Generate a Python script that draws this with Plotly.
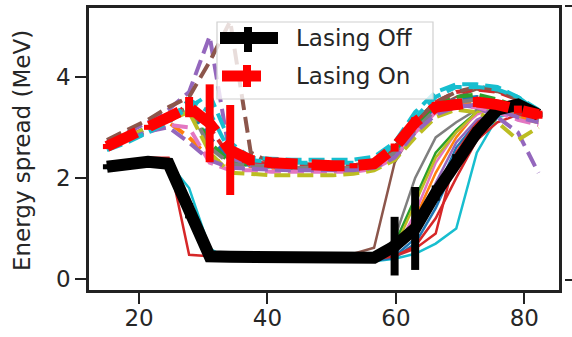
import plotly.graph_objects as go

# ---------------- data ----------------
x_pos = [15.0, 18.2, 21.4, 24.6, 27.8, 31.0, 34.2, 37.4, 40.6, 43.8, 47.0,
         50.2, 53.4, 56.6, 59.8, 63.0, 66.2, 69.4, 72.6, 75.8, 79.0, 82.2]

off_blue   = [2.20, 2.28, 2.33, 2.30, 1.40, 0.42, 0.40, 0.40, 0.39, 0.38, 0.37, 0.37, 0.36, 0.37, 0.45, 0.80, 1.70, 2.60, 3.10, 3.40, 3.30, 3.20]
off_orange = [2.22, 2.30, 2.35, 2.32, 1.30, 0.45, 0.44, 0.43, 0.42, 0.41, 0.40, 0.39, 0.39, 0.40, 0.55, 1.20, 2.10, 2.80, 3.30, 3.50, 3.40, 3.25]
off_green  = [2.18, 2.26, 2.28, 2.20, 1.20, 0.40, 0.40, 0.40, 0.39, 0.38, 0.37, 0.37, 0.37, 0.40, 0.70, 1.60, 2.50, 2.95, 3.30, 3.45, 3.35, 3.20]
off_red    = [2.25, 2.32, 2.40, 2.40, 0.48, 0.45, 0.44, 0.44, 0.43, 0.42, 0.41, 0.40, 0.40, 0.40, 0.45, 0.60, 0.90, 2.50, 3.10, 3.40, 3.35, 3.25]
off_purple = [2.20, 2.28, 2.34, 2.30, 1.60, 0.50, 0.43, 0.42, 0.41, 0.40, 0.39, 0.38, 0.38, 0.39, 0.50, 1.00, 1.90, 2.70, 3.15, 3.35, 3.25, 3.15]
off_brown  = [2.20, 2.30, 2.35, 2.30, 1.50, 0.50, 0.48, 0.47, 0.46, 0.45, 0.45, 0.46, 0.50, 0.62, 2.30, 3.00, 3.40, 3.60, 3.75, 3.70, 3.55, 3.35]
off_pink   = [2.22, 2.30, 2.36, 2.32, 1.20, 0.55, 0.45, 0.44, 0.43, 0.42, 0.41, 0.40, 0.40, 0.41, 0.55, 1.30, 2.30, 2.90, 3.25, 3.40, 3.30, 3.20]
off_gray   = [2.20, 2.28, 2.32, 2.28, 1.40, 0.45, 0.43, 0.42, 0.41, 0.40, 0.39, 0.38, 0.38, 0.40, 0.80, 2.00, 2.80, 3.10, 3.35, 3.45, 3.30, 3.15]
off_olive  = [2.20, 2.28, 2.32, 2.30, 1.35, 0.44, 0.42, 0.41, 0.40, 0.39, 0.38, 0.38, 0.37, 0.39, 0.60, 1.50, 2.40, 2.90, 3.30, 3.40, 3.20, 3.10]
off_cyan   = [2.18, 2.26, 2.30, 2.30, 1.80, 0.60, 0.38, 0.37, 0.36, 0.35, 0.35, 0.34, 0.34, 0.35, 0.40, 0.50, 0.70, 1.00, 2.50, 3.20, 3.30, 3.20]
off_blue2  = [2.20, 2.28, 2.32, 2.30, 1.30, 0.42, 0.40, 0.39, 0.38, 0.37, 0.36, 0.36, 0.35, 0.36, 0.42, 0.70, 1.40, 2.30, 2.90, 3.30, 3.30, 3.20]
off_red2   = [2.22, 2.30, 2.36, 2.34, 1.20, 0.45, 0.43, 0.42, 0.41, 0.40, 0.39, 0.38, 0.38, 0.39, 0.45, 0.65, 1.20, 2.00, 2.75, 3.10, 3.25, 3.20]

on_blue    = [2.60, 2.75, 2.95, 3.15, 3.35, 2.80, 2.35, 2.25, 2.22, 2.20, 2.20, 2.20, 2.20, 2.25, 2.50, 3.00, 3.40, 3.55, 3.60, 3.50, 3.35, 3.20]
on_orange  = [2.62, 2.78, 2.95, 3.10, 2.80, 2.40, 2.25, 2.22, 2.20, 2.18, 2.18, 2.18, 2.18, 2.22, 2.45, 2.95, 3.30, 3.45, 3.50, 3.40, 3.20, 3.10]
on_green   = [2.65, 2.80, 3.00, 3.20, 3.40, 2.70, 2.30, 2.25, 2.22, 2.20, 2.20, 2.20, 2.20, 2.25, 2.55, 3.05, 3.45, 3.60, 3.65, 3.55, 3.40, 3.25]
on_red     = [2.62, 2.80, 3.00, 3.20, 3.45, 3.00, 2.40, 2.30, 2.28, 2.26, 2.25, 2.25, 2.25, 2.30, 2.60, 3.10, 3.50, 3.70, 3.75, 3.70, 3.55, 3.30]
on_purple  = [2.70, 2.90, 3.10, 3.35, 3.70, 4.80, 2.40, 2.25, 2.22, 2.20, 2.18, 2.18, 2.18, 2.22, 2.45, 2.90, 3.30, 3.45, 3.40, 3.20, 2.90, 2.10]
on_brown   = [2.75, 2.95, 3.15, 3.40, 3.60, 4.30, 5.10, 2.50, 2.30, 2.28, 2.26, 2.25, 2.25, 2.30, 2.60, 3.10, 3.50, 3.70, 3.80, 3.75, 3.55, 3.30]
on_pink    = [2.60, 2.75, 2.90, 3.05, 3.00, 2.30, 2.15, 2.15, 2.12, 2.12, 2.12, 2.12, 2.12, 2.18, 2.40, 2.90, 3.30, 3.40, 3.40, 3.30, 3.15, 3.05]
on_gray    = [2.62, 2.78, 2.95, 3.15, 3.40, 2.60, 2.28, 2.24, 2.22, 2.20, 2.20, 2.20, 2.20, 2.25, 2.50, 2.95, 3.35, 3.50, 3.55, 3.45, 3.30, 3.15]
on_olive   = [2.65, 2.80, 3.00, 3.15, 3.30, 2.50, 2.10, 2.08, 2.05, 2.05, 2.05, 2.05, 2.08, 2.15, 2.35, 2.80, 3.20, 3.35, 3.30, 3.10, 2.75, 3.00]
on_cyan    = [2.55, 2.70, 2.90, 3.10, 3.40, 3.65, 2.70, 2.40, 2.38, 2.36, 2.36, 2.36, 2.36, 2.42, 2.70, 3.30, 3.70, 3.85, 3.85, 3.80, 3.60, 3.35]
on_purple2 = [2.62, 2.78, 2.92, 3.00, 2.70, 2.35, 2.20, 2.18, 2.16, 2.15, 2.15, 2.15, 2.15, 2.20, 2.40, 2.90, 3.25, 3.40, 3.45, 3.35, 3.20, 3.10]
on_cyan2   = [2.58, 2.72, 2.90, 3.10, 3.55, 3.30, 2.50, 2.35, 2.32, 2.30, 2.30, 2.30, 2.30, 2.35, 2.65, 3.20, 3.60, 3.80, 3.80, 3.75, 3.60, 3.30]

off_mean = [2.22, 2.28, 2.32, 2.28, 1.35, 0.45, 0.44, 0.44, 0.43, 0.41, 0.40, 0.39, 0.39, 0.42, 0.65, 1.00, 1.70, 2.35, 2.90, 3.35, 3.45, 3.25]
off_err  = [0.05, 0.05, 0.05, 0.05, 0.15, 0.05, 0.03, 0.03, 0.03, 0.03, 0.03, 0.03, 0.03, 0.05, 0.58, 0.82, 0.15, 0.12, 0.10, 0.08, 0.05, 0.05]
on_mean  = [2.62, 2.80, 3.00, 3.20, 3.40, 3.08, 2.55, 2.35, 2.30, 2.27, 2.25, 2.24, 2.24, 2.28, 2.60, 3.10, 3.40, 3.45, 3.50, 3.45, 3.35, 3.25]
on_err   = [0.05, 0.05, 0.05, 0.08, 0.20, 0.77, 0.89, 0.10, 0.05, 0.05, 0.05, 0.05, 0.05, 0.05, 0.08, 0.10, 0.10, 0.10, 0.10, 0.08, 0.08, 0.08]

off_shots = [off_blue, off_orange, off_green, off_red, off_purple, off_brown,
             off_pink, off_gray, off_olive, off_cyan, off_blue2, off_red2]
off_colors = ["#1f77b4", "#ff7f0e", "#2ca02c", "#d62728", "#9467bd", "#8c564b",
              "#e377c2", "#7f7f7f", "#bcbd22", "#17becf", "#1f77b4", "#d62728"]
on_shots = [on_blue, on_orange, on_green, on_red, on_purple, on_brown,
            on_pink, on_gray, on_olive, on_cyan, on_purple2, on_cyan2]
on_colors = ["#1f77b4", "#ff7f0e", "#2ca02c", "#d62728", "#9467bd", "#8c564b",
             "#e377c2", "#7f7f7f", "#bcbd22", "#17becf", "#9467bd", "#17becf"]

legend_labels = ["Lasing Off", "Lasing On"]
x_ticks = [20, 40, 60, 80]
y_ticks = [0, 2, 4]

# ---------------- figure ----------------
fig = go.Figure()
for ys, c in zip(off_shots, off_colors):
    fig.add_trace(go.Scatter(x=x_pos, y=ys, mode="lines",
                             line=dict(color=c, width=2.5), showlegend=False))
for ys, c in zip(on_shots, on_colors):
    fig.add_trace(go.Scatter(x=x_pos, y=ys, mode="lines",
                             line=dict(color=c, width=4, dash="16px,7px"),
                             showlegend=False))

fig.add_trace(go.Scatter(x=x_pos, y=off_mean, mode="lines",
                         line=dict(color="black", width=12),
                         error_y=dict(type="data", array=off_err, color="black",
                                      thickness=8, width=0),
                         showlegend=False))
fig.add_trace(go.Scatter(x=x_pos, y=on_mean, mode="lines",
                         line=dict(color="red", width=11, dash="33px,14px"),
                         error_y=dict(type="data", array=on_err, color="red",
                                      thickness=8, width=0),
                         showlegend=False))

# plot area in pixels
L, R, T, B = 89, 559, 8, 290
W, H = R - L, B - T
def px(xp): return (xp - L) / W
def py(yp): return (B - yp) / H

shapes = []
# legend frame
shapes.append(dict(type="rect", xref="paper", yref="paper",
                   x0=px(217), x1=px(433), y0=py(99), y1=py(22),
                   fillcolor="rgba(255,255,255,0.8)",
                   line=dict(color="#d0d0d0", width=1.2)))
# legend handles
shapes.append(dict(type="line", xref="paper", yref="paper",
                   x0=px(220), x1=px(278), y0=py(38), y1=py(38),
                   line=dict(color="black", width=12)))
shapes.append(dict(type="line", xref="paper", yref="paper",
                   x0=px(248), x1=px(248), y0=py(27), y1=py(52),
                   line=dict(color="black", width=8)))
shapes.append(dict(type="line", xref="paper", yref="paper",
                   x0=px(222), x1=px(261), y0=py(76), y1=py(76),
                   line=dict(color="red", width=11)))
shapes.append(dict(type="line", xref="paper", yref="paper",
                   x0=px(247), x1=px(247), y0=py(65), y1=py(87),
                   line=dict(color="red", width=8)))
# partial neighbour axis ticks at the right edge
for yy in (6, 280):
    shapes.append(dict(type="line", xref="paper", yref="paper",
                       x0=px(565), x1=px(573), y0=py(yy), y1=py(yy),
                       line=dict(color="#222222", width=2)))

annotations = []
for lab, yy in zip(legend_labels, (38, 76)):
    annotations.append(dict(text=lab, xref="paper", yref="paper",
                            x=px(294), y=py(yy), xanchor="left", yanchor="middle",
                            showarrow=False,
                            font=dict(family="DejaVu Sans", size=23, color="#262626")))
# y-axis title placed explicitly
annotations.append(dict(text="Energy spread (MeV)", xref="paper", yref="paper",
                        x=px(22), y=py(151), xanchor="center", yanchor="middle",
                        textangle=-90, showarrow=False,
                        font=dict(family="DejaVu Sans", size=23, color="#262626")))

fig.update_layout(
    width=572, height=337,
    margin=dict(l=L, r=572 - R, t=T, b=337 - B),
    paper_bgcolor="white", plot_bgcolor="white",
    showlegend=False,
    font=dict(family="DejaVu Sans", size=23, color="#262626"),
    shapes=shapes, annotations=annotations,
)
fig.update_xaxes(range=[12.21, 85.4], tickvals=x_ticks, ticks="outside",
                 ticklen=11, tickwidth=2, tickcolor="#222222",
                 showline=True, linecolor="#222222", linewidth=2.5, mirror=True,
                 showgrid=False, zeroline=False, automargin=False,
                 ticklabelstandoff=-5)
fig.update_yaxes(range=[-0.217, 5.36], tickvals=y_ticks, ticks="outside",
                 ticklen=11, tickwidth=2, tickcolor="#222222",
                 showline=True, linecolor="#222222", linewidth=2.5, mirror=True,
                 showgrid=False, zeroline=False, automargin=False)

fig.write_html("out.html")
